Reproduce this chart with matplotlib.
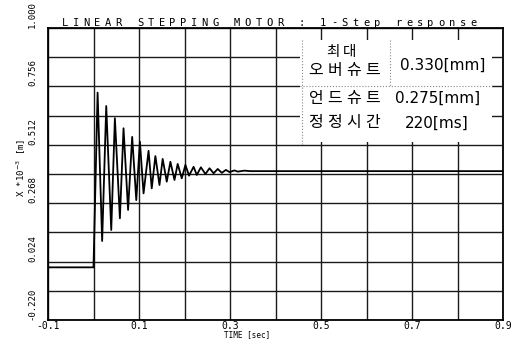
import numpy as np
import matplotlib
matplotlib.use("Agg")
import matplotlib.pyplot as plt
from matplotlib.patches import Rectangle
from matplotlib.lines import Line2D


# DATA
t = [-0.1, 0.0, 0.009, 0.019, 0.028, 0.039, 0.047, 0.058, 0.066, 0.076,
     0.085, 0.094, 0.102, 0.110, 0.121, 0.128, 0.136, 0.145, 0.152, 0.161,
     0.169, 0.178, 0.185, 0.194, 0.202, 0.210, 0.220, 0.227, 0.236, 0.246,
     0.255, 0.264, 0.273, 0.282, 0.291, 0.299, 0.310, 0.317, 0.331, 0.345,
     0.9]
x = [0.0, 0.0, 0.730, 0.110, 0.674, 0.156, 0.623, 0.205, 0.581, 0.240,
     0.545, 0.281, 0.525, 0.309, 0.487, 0.330, 0.465, 0.344, 0.453, 0.358,
     0.441, 0.365, 0.432, 0.372, 0.428, 0.383, 0.420, 0.386, 0.418, 0.390,
     0.414, 0.393, 0.411, 0.395, 0.407, 0.398, 0.405, 0.400, 0.404, 0.402,
     0.402]

x_ticks = [-0.1, 0.1, 0.3, 0.5, 0.7, 0.9]
x_ticklabels = ["-0.1", "0.1", "0.3", "0.5", "0.7", "0.9"]
y_ticks = [-0.220, 0.024, 0.268, 0.512, 0.756, 1.000]
y_ticklabels = ["-0.220", "0.024", "0.268", "0.512", "0.756", "1.000"]

title = "LINEAR STEPPING MOTOR : 1-Step response"
table_names = ["최대", "오버슈트", "언드슈트", "정정시간"]
table_values = ["0.330[mm]", "0.275[mm]", "220[ms]"]

W, H = 525, 343


def fx(px):
    return px / W


def fy(py):
    return 1 - py / H


def spaced(s, x0, y0, pitch, **kw):
    # put each character on a fixed pitch (letter-spaced text)
    for i, ch in enumerate(s):
        fig.text(fx(x0 + i * pitch), fy(y0), ch, **kw)


fig = plt.figure(figsize=(W / 100, H / 100), dpi=100)
ax = fig.add_axes([fx(48), fy(320), 455 / W, 292 / H])

ax.plot(t, x, color="black", lw=1.3, zorder=3)

ax.set_xlim(-0.1, 0.9)
ax.set_ylim(-0.22, 1.0)

# grid every 0.1 s and every 0.122 in x
ax.set_xticks(np.linspace(-0.1, 0.9, 11), minor=True)
ax.set_yticks(np.linspace(-0.22, 1.0, 11), minor=True)
ax.grid(which="both", color="#1a1a1a", lw=1.0)
ax.set_axisbelow(True)

ax.set_xticks(x_ticks)
ax.set_xticklabels(x_ticklabels, family="DejaVu Sans Mono", fontsize=7)
ax.set_yticks(y_ticks)
ax.set_yticklabels(y_ticklabels, family="DejaVu Sans Mono", fontsize=6.5,
                   rotation=90, va="bottom")
ax.tick_params(which="both", length=0)
ax.tick_params(axis="x", pad=0.5)
ax.tick_params(axis="y", pad=8)

for s in ax.spines.values():
    s.set_linewidth(1.3)
    s.set_color("black")

# title, spaced like a plotter font
spaced(title, 62, 25.5, 10.75, family="DejaVu Sans Mono", fontsize=7.5,
       ha="left", va="baseline")

fig.text(fx(21), fy(168), "X *10$^{-3}$ [m]", rotation=90,
         family="DejaVu Sans Mono", fontsize=6.5, ha="center", va="center")
fig.text(fx(247), fy(335), "TIME [sec]", family="DejaVu Sans Mono",
         fontsize=5.5, ha="center", va="center")

# result table
fig.patches.append(Rectangle((fx(300), fy(142)), 192 / W, 102 / H,
                             transform=fig.transFigure, facecolor="white",
                             edgecolor="none", zorder=1))
for xs, ys in [([302, 302], [40, 145]), ([390, 390], [40, 86]),
               ([300, 492], [86, 86])]:
    fig.add_artist(Line2D([fx(v) for v in xs], [fy(v) for v in ys],
                          color="#888888", lw=0.8, ls=":", zorder=2))

kr = dict(family="Noto Sans CJK KR", ha="center", va="center", zorder=3)
spaced(table_names[0], 333, 52, 17, fontsize=10.5, **kr)
spaced(table_names[1], 316, 70, 19, fontsize=11.5, **kr)
spaced(table_names[2], 316, 98, 19, fontsize=11.5, **kr)
spaced(table_names[3], 316, 123, 19, fontsize=11.5, **kr)

num = dict(family="DejaVu Sans", fontsize=11, ha="center", va="center",
           zorder=3)
fig.text(fx(443), fy(65), table_values[0], **num)
fig.text(fx(438), fy(98), table_values[1], **num)
fig.text(fx(437), fy(123), table_values[2], **num)

fig.savefig("out.png", dpi=100)
